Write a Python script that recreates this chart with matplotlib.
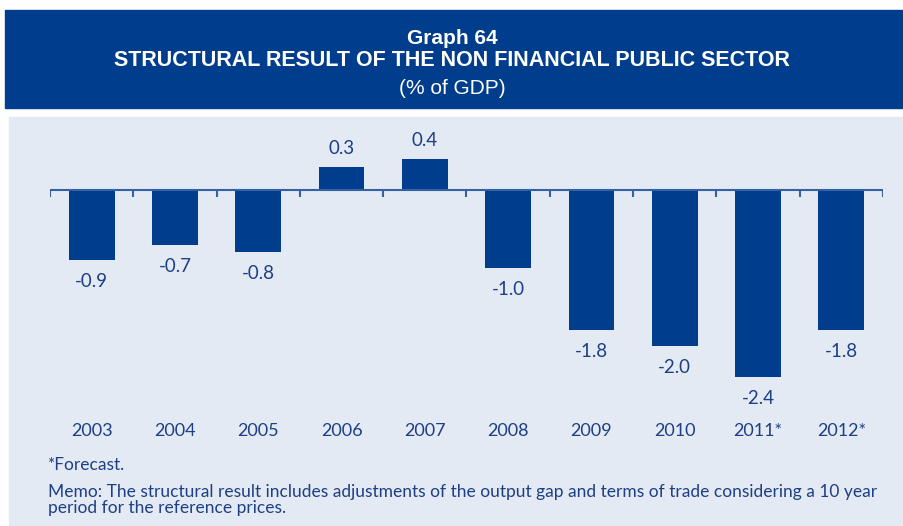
import matplotlib
matplotlib.use("Agg")
import matplotlib.pyplot as plt
from matplotlib.patches import Rectangle

years = ["2003", "2004", "2005", "2006", "2007", "2008", "2009", "2010", "2011*", "2012*"]
values = [-0.9, -0.7, -0.8, 0.3, 0.4, -1.0, -1.8, -2.0, -2.4, -1.8]

title_lines = ["Graph 64", "STRUCTURAL RESULT OF THE NON FINANCIAL PUBLIC SECTOR", "(% of GDP)"]
notes = ["*Forecast.",
         "Memo: The structural result includes adjustments of the output gap and terms of trade considering a 10 year",
         "period for the reference prices."]

W, H = 904, 526
BLUE = "#003d8c"
PANEL = "#e4eaf3"
TEXT = "#1d3f85"

fig = plt.figure(figsize=(W / 100, H / 100), dpi=100)
fig.patch.set_facecolor("white")

def fx(px):
    return px / W

def fy(py):
    return 1 - py / H

# header band and panel background
fig.patches.append(Rectangle((fx(5), fy(108)), fx(904 - 5), (108 - 10) / H,
                             transform=fig.transFigure, color=BLUE, zorder=0))
fig.patches.append(Rectangle((fx(9), 0), fx(904 - 9), (526 - 117) / H,
                             transform=fig.transFigure, color=PANEL, zorder=0))

hfont = "Liberation Sans"
fig.text(0.5, fy(38), title_lines[0], ha="center", va="center", color="white",
         fontsize=15, fontweight="bold", family=hfont)
fig.text(0.5, fy(61), title_lines[1], ha="center", va="center", color="white",
         fontsize=15.5, fontweight="bold", family=hfont)
fig.text(0.5, fy(88), title_lines[2], ha="center", va="center", color="white",
         fontsize=15, family=hfont)

# plotting area: zero line at y=190 px, ~78 px per unit
scale = 78.0
top_px, bot_px, zero_px = 130, 400, 190
left_px, right_px = 50, 883
ax = fig.add_axes([fx(left_px), fy(bot_px), (right_px - left_px) / W, (bot_px - top_px) / H])
ax.set_zorder(2)
ax.set_facecolor("none")
ax.set_xlim(-0.5, len(values) - 0.5)
ax.set_ylim(-(bot_px - zero_px) / scale, (zero_px - top_px) / scale)
for s in ax.spines.values():
    s.set_visible(False)
ax.set_xticks([])
ax.set_yticks([])

x = list(range(len(values)))
ax.bar(x, values, width=0.55, color=BLUE, zorder=2)

# zero line with category separators
ax.axhline(0, color="#3461a3", lw=1.5, zorder=3)
for b in [i - 0.5 for i in range(len(values) + 1)]:
    ax.plot([b, b], [0, -7 / scale], color="#3461a3", lw=1.5, zorder=3,
            solid_capstyle="butt")

lfont = "Lato"
for xi, v in zip(x, values):
    off = -15.5 if v < 0 else 13
    ax.annotate(f"{v:.1f}", (xi, v), xytext=(0, off), textcoords="offset points",
                ha="center", va="center", fontsize=13.5, color=TEXT, family=lfont,
                annotation_clip=False)

# category labels
for xi, lab in zip(x, years):
    fig.text(fx(left_px + (xi + 0.5) * (right_px - left_px) / len(values)), fy(431), lab,
             ha="center", va="center", fontsize=13, color=TEXT, family=lfont, zorder=3)

fig.text(fx(48), fy(465), notes[0], ha="left", va="center", fontsize=12.5, color=TEXT, family=lfont)
fig.text(fx(48), fy(492), notes[1], ha="left", va="center", fontsize=12.5, color=TEXT, family=lfont)
fig.text(fx(48), fy(508), notes[2], ha="left", va="center", fontsize=12.5, color=TEXT, family=lfont)

fig.savefig("out.png", dpi=100, facecolor="white")
